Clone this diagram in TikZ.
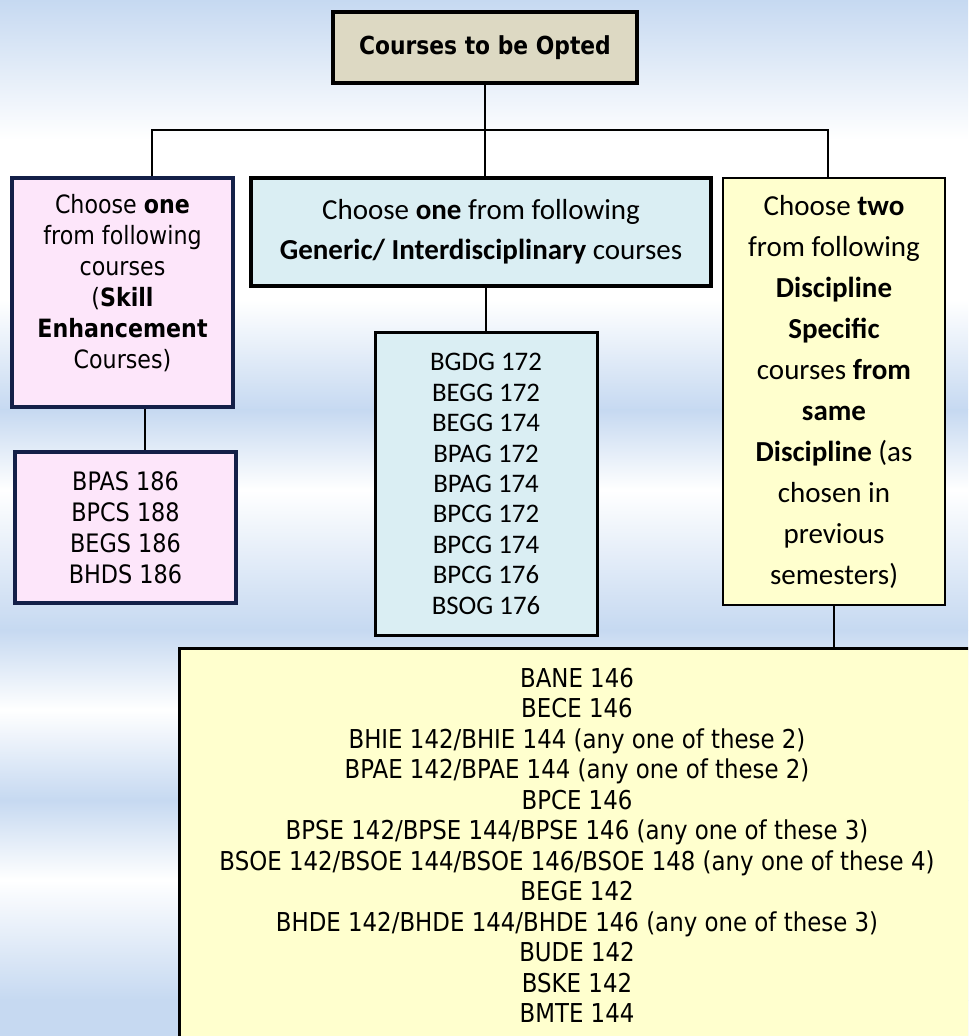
\documentclass[tikz,border=0pt]{standalone}
\usepackage{fontspec}
\setmainfont{Carlito}
\newfontfamily\tahoma{DejaVu Sans}[FakeStretch=0.88]
\usepackage{tikz}
\usetikzlibrary{calc}
\usetikzlibrary{shadows}
\definecolor{bgblue}{RGB}{198,217,241}
\definecolor{tan}{RGB}{221,217,195}
\definecolor{pinkfill}{RGB}{253,230,250}
\definecolor{navy}{RGB}{20,32,72}
\definecolor{bluefill}{RGB}{218,238,243}
\definecolor{yellowfill}{RGB}{255,255,206}
\newcommand{\band}[4]{\shade[top color=#3,bottom color=#4] (0,#1) rectangle (968,#2);}
\tikzset{
  box/.style={draw=black, line width=1.5pt, align=center, inner sep=0pt},
  navybox/.style={box, draw=navy, line width=2pt, fill=pinkfill,
    drop shadow={shadow xshift=1.2pt, shadow yshift=-1.2pt, opacity=0.35}},
  link/.style={draw=black, line width=1.2pt},
}

\begin{document}
\begin{tikzpicture}[x=0.5pt,y=-0.5pt]
        \useasboundingbox (0,0) rectangle (968,1036);
        \clip (0,0) rectangle (968,1036);
        % background
        \band{0}{140}{bgblue}{white}
        \band{140}{300}{white}{white}
        \band{300}{410}{white}{bgblue}
        \band{410}{490}{bgblue}{white}
        \band{490}{630}{white}{bgblue}
        \band{630}{710}{bgblue}{white}
        \band{710}{800}{white}{bgblue}
        \band{800}{880}{bgblue}{white}
        \band{880}{1000}{white}{bgblue}
        \band{1000}{1036}{bgblue}{bgblue}
        % top
        \node[box, fill=tan, line width=1.8pt, minimum width=152pt, minimum height=35.5pt,
              font=\tahoma\bfseries\fontsize{12.4}{15}\selectfont] (opted) at (485,47.5) {Courses to be Opted};
        % column1
        \node[navybox, minimum width=110.5pt, minimum height=114.5pt] (sec) at (122.5,292.5) {};
        \node[align=center, inner sep=0pt, font=\tahoma\fontsize{12.6}{15.5}\selectfont] (sectext)
              at ($(sec.center)+(0,-9)$)
              {Choose \textbf{one}\\ from following\\ courses\\ (\textbf{Skill}\\ \textbf{Enhancement}\\ Courses)};
        \node[navybox, minimum width=110.5pt, minimum height=75.5pt,
              font=\tahoma\fontsize{12.7}{15.5}\selectfont] (seclist) at (125.5,527.5)
              {BPAS 186\\ BPCS 188\\ BEGS 186\\ BHDS 186};
        % column2
        \node[box, fill=bluefill, line width=1.6pt, minimum width=230pt, minimum height=54pt,
              font=\fontsize{14.5}{20}\selectfont] (gen) at (481,232)
              {Choose \textbf{one} from following\\ \textbf{Generic/ Interdisciplinary} courses};
        \node[box, fill=bluefill, minimum width=111pt, minimum height=151pt,
              font=\fontsize{13.4}{15.2}\selectfont] (genlist) at (486,484)
              {BGDG 172\\ BEGG 172\\ BEGG 174\\ BPAG 172\\ BPAG 174\\ BPCG 172\\ BPCG 174\\ BPCG 176\\ BSOG 176};
        % column3
        \node[box, fill=yellowfill, line width=1.3pt, minimum width=111pt, minimum height=213.5pt,
              font=\fontsize{14.5}{20.5}\selectfont] (dsc) at (834,391.5)
              {Choose \textbf{two}\\ from following\\ \textbf{Discipline}\\ \textbf{Specific}\\ courses \textbf{from}\\ \textbf{same}\\ \textbf{Discipline} (as\\ chosen in\\ previous\\ semesters)};
        \node[box, fill=yellowfill, minimum width=398pt, minimum height=197.5pt,
              font=\tahoma\fontsize{13}{15.25}\selectfont] (dsclist) at (577,845.5)
              {BANE 146\\ BECE 146\\ BHIE 142/BHIE 144 (any one of these 2)\\ BPAE 142/BPAE 144 (any one of these 2)\\
               BPCE 146\\ BPSE 142/BPSE 144/BPSE 146 (any one of these 3)\\
               BSOE 142/BSOE 144/BSOE 146/BSOE 148 (any one of these 4)\\ BEGE 142\\
               BHDE 142/BHDE 144/BHDE 146 (any one of these 3)\\ BUDE 142\\ BSKE 142\\ BMTE 144};
        % connectors
        \coordinate (barL) at (152,130);
        \coordinate (barR) at (828,130);
        \draw[link] (opted.south) -- (opted.south |- gen.north);
        \draw[link] (barL |- sec.north) -- (barL) -- (barR) -- (barR |- dsc.north);
        \draw[link] ($(sec.south)+(22.5,0)$) -- ($(seclist.north)+(19.5,0)$);
        \draw[link] (genlist.north |- gen.south) -- (genlist.north);
        \draw[link] (dsc.south) -- (dsc.south |- dsclist.north);
    \end{tikzpicture}
\end{document}
